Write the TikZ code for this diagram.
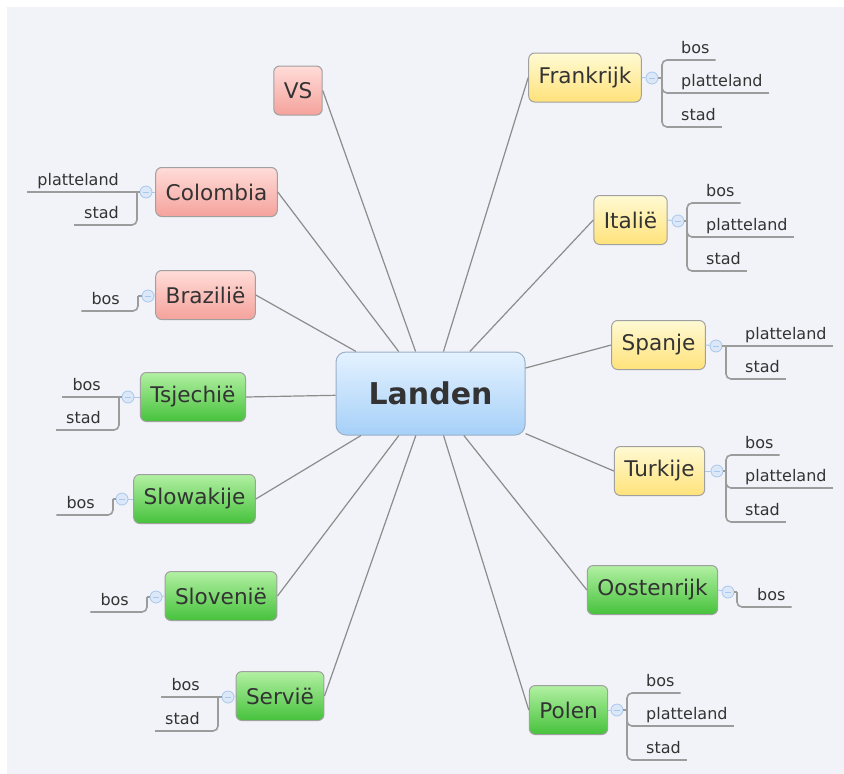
\documentclass[tikz,border=0pt]{standalone}
\usepackage{fontspec}
\setmainfont{DejaVu Sans}
\definecolor{bg}{HTML}{F2F3F8}
\definecolor{txt}{HTML}{333333}
\definecolor{bord}{HTML}{A0A0A0}
\definecolor{redT}{HTML}{FFDCD8}
\definecolor{redB}{HTML}{F5A29C}
\definecolor{yelT}{HTML}{FFFAD4}
\definecolor{yelB}{HTML}{FFE27A}
\definecolor{grnT}{HTML}{B2F0A2}
\definecolor{grnB}{HTML}{46C23C}
\definecolor{bluT}{HTML}{E4F2FF}
\definecolor{bluB}{HTML}{A6D0F8}
\definecolor{bluBord}{HTML}{9AAFC8}
\definecolor{circF}{HTML}{DCE8F8}
\definecolor{circB}{HTML}{A8C8EC}
\definecolor{linkgray}{HTML}{8C8C8C}
\definecolor{subgray}{HTML}{9C9C9C}
\newcommand\SubR[5]{\node[subtxt,anchor=base west] (#1) at (#3,#4-7) {#5};
  \draw[subline] (#2) |- ([shift={(6pt,-7pt)}]#1.base east);}
\newcommand\SubL[5]{\node[subtxt,anchor=base east] (#1) at (#3,#4-7) {#5};
  \draw[subline] (#2) |- ([shift={(-10pt,-7pt)}]#1.base west);}
\newcommand\SubRs[5]{\node[subtxt,anchor=base west] (#1) at (#3,#4-7) {#5};
  \draw[subline] (#2) -- ([shift={(6pt,-7pt)}]#1.base east);}
\newcommand\SubLs[5]{\node[subtxt,anchor=base east] (#1) at (#3,#4-7) {#5};
  \draw[subline] (#2) -- ([shift={(-10pt,-7pt)}]#1.base west);}
\begin{document}
\begin{tikzpicture}[x=1pt,y=-1pt,
  topic/.style={rectangle, rounded corners=6pt, draw=bord, line width=1pt,
    minimum height=49pt, inner xsep=10pt, inner ysep=0pt,
    font=\fontsize{21.6}{24}\selectfont, text=txt},
  rednode/.style={topic, top color=redT, bottom color=redB},
  yelnode/.style={topic, top color=yelT, bottom color=yelB},
  grnnode/.style={topic, top color=grnT, bottom color=grnB},
  maintopic/.style={rectangle, rounded corners=10pt, draw=bluBord, line width=1pt,
    minimum width=189pt, minimum height=83pt, top color=bluT, bottom color=bluB,
    font=\fontsize{30}{34}\selectfont\bfseries, text=txt},
  circ/.style={circle, draw=circB, fill=circF, minimum size=12pt, inner sep=0pt,
    line width=0.8pt,
    path picture={\draw[circB, line width=1pt]
      ([xshift=-3pt]path picture bounding box.center) --
      ([xshift=3pt]path picture bounding box.center);}},
  link/.style={draw=linkgray, line width=1.2pt},
  subline/.style={draw=subgray, line width=1.6pt, rounded corners=5pt},
  stub/.style={draw=circB, line width=1pt},
  subtxt/.style={font=\fontsize{16}{18}\selectfont, text=txt, inner sep=0pt}]
\useasboundingbox (0,0) rectangle (844,774);
\fill[white] (0,0) rectangle (844,774);
\fill[bg] (7,7) rectangle (844,774);

% main topic
\node[maintopic] (M) at (430.5,393.5) {Landen};

% right side
\node[yelnode] (F) at (585,77.5) {Frankrijk};
\node[yelnode] (I) at (630.5,220) {Italië};
\node[yelnode] (S) at (658.5,345) {Spanje};
\node[yelnode] (T) at (659.5,471) {Turkije};
\node[grnnode] (O) at (652.5,590) {Oostenrijk};
\node[grnnode] (P) at (568.5,710) {Polen};

% left side
\node[rednode] (V) at (298,90.5) {VS};
\node[rednode] (C) at (216.5,192) {Colombia};
\node[rednode] (B) at (205.5,295) {Brazilië};
\node[grnnode] (Z) at (193,397) {Tsjechië};
\node[grnnode] (K) at (194.5,499) {Slowakije};
\node[grnnode] (L) at (221,596) {Slovenië};
\node[grnnode] (R) at (280,696) {Servië};

% links from main topic
\foreach \n in {F,I,S,T,O,P} \draw[link] (M) -- (\n.west);
\foreach \n in {V,C,B,Z,K,L,R} \draw[link] (M) -- (\n.east);

% collapse circles
\node[circ] (Fc) at (652,78) {};
\node[circ] (Ic) at (678,221) {};
\node[circ] (Sc) at (716,346) {};
\node[circ] (Tc) at (717,471) {};
\node[circ] (Oc) at (728,592) {};
\node[circ] (Pc) at (617,710) {};
\node[circ] (Cc) at (146,192) {};
\node[circ] (Bc) at (148,296) {};
\node[circ] (Zc) at (128,397) {};
\node[circ] (Kc) at (122,499) {};
\node[circ] (Lc) at (156,597) {};
\node[circ] (Rc) at (228,697) {};
\foreach \n in {F,I,S,T,O,P} \draw[stub] (\n.east) -- (\n c);
\foreach \n in {C,B,Z,K,L,R} \draw[stub] (\n.west) -- (\n c);

% bracket points
\coordinate (fb) at (662,78);
\coordinate (ib) at (687,221);
\coordinate (sb) at (726,346);
\coordinate (tb) at (726,471);
\coordinate (ob) at (737,592);
\coordinate (pb) at (627,710);
\coordinate (cb) at (137,192);
\coordinate (bb) at (138,296);
\coordinate (zb) at (119,397);
\coordinate (kb) at (113,499);
\coordinate (lb) at (147,597);
\coordinate (rb) at (218,697);
\draw[subline] (Fc) -- (fb);
\draw[subline] (Ic) -- (ib);
\draw[subline] (Sc) -- (sb);
\draw[subline] (Tc) -- (tb);
\draw[subline] (Oc) -- (ob);
\draw[subline] (Pc) -- (pb);
\draw[subline] (Cc) -- (cb);
\draw[subline] (Bc) -- (bb);
\draw[subline] (Zc) -- (zb);
\draw[subline] (Kc) -- (kb);
\draw[subline] (Lc) -- (lb);
\draw[subline] (Rc) -- (rb);

% sub items right
\SubR{F1}{fb}{681}{60}{bos}
\SubR{F2}{fb}{681}{93}{platteland}
\SubR{F3}{fb}{681}{127}{stad}
\SubR{I1}{ib}{706}{203}{bos}
\SubR{I2}{ib}{706}{237}{platteland}
\SubR{I3}{ib}{706}{271}{stad}
\SubRs{S1}{sb}{745}{346}{platteland}
\SubR{S2}{sb}{745}{379}{stad}
\SubR{T1}{tb}{745}{455}{bos}
\SubR{T2}{tb}{745}{488}{platteland}
\SubR{T3}{tb}{745}{522}{stad}
\SubR{O1}{ob}{757}{607}{bos}
\SubR{P1}{pb}{646}{693}{bos}
\SubR{P2}{pb}{646}{726}{platteland}
\SubR{P3}{pb}{646}{760}{stad}

% sub items left
\SubLs{C1}{cb}{119}{192}{platteland}
\SubL{C2}{cb}{119}{225}{stad}
\SubL{B1}{bb}{120}{311}{bos}
\SubLs{Z1}{zb}{101}{397}{bos}
\SubL{Z2}{zb}{101}{430}{stad}
\SubL{K1}{kb}{95}{515}{bos}
\SubL{L1}{lb}{129}{612}{bos}
\SubLs{R1}{rb}{200}{697}{bos}
\SubL{R2}{rb}{200}{731}{stad}
\end{tikzpicture}
\end{document}
